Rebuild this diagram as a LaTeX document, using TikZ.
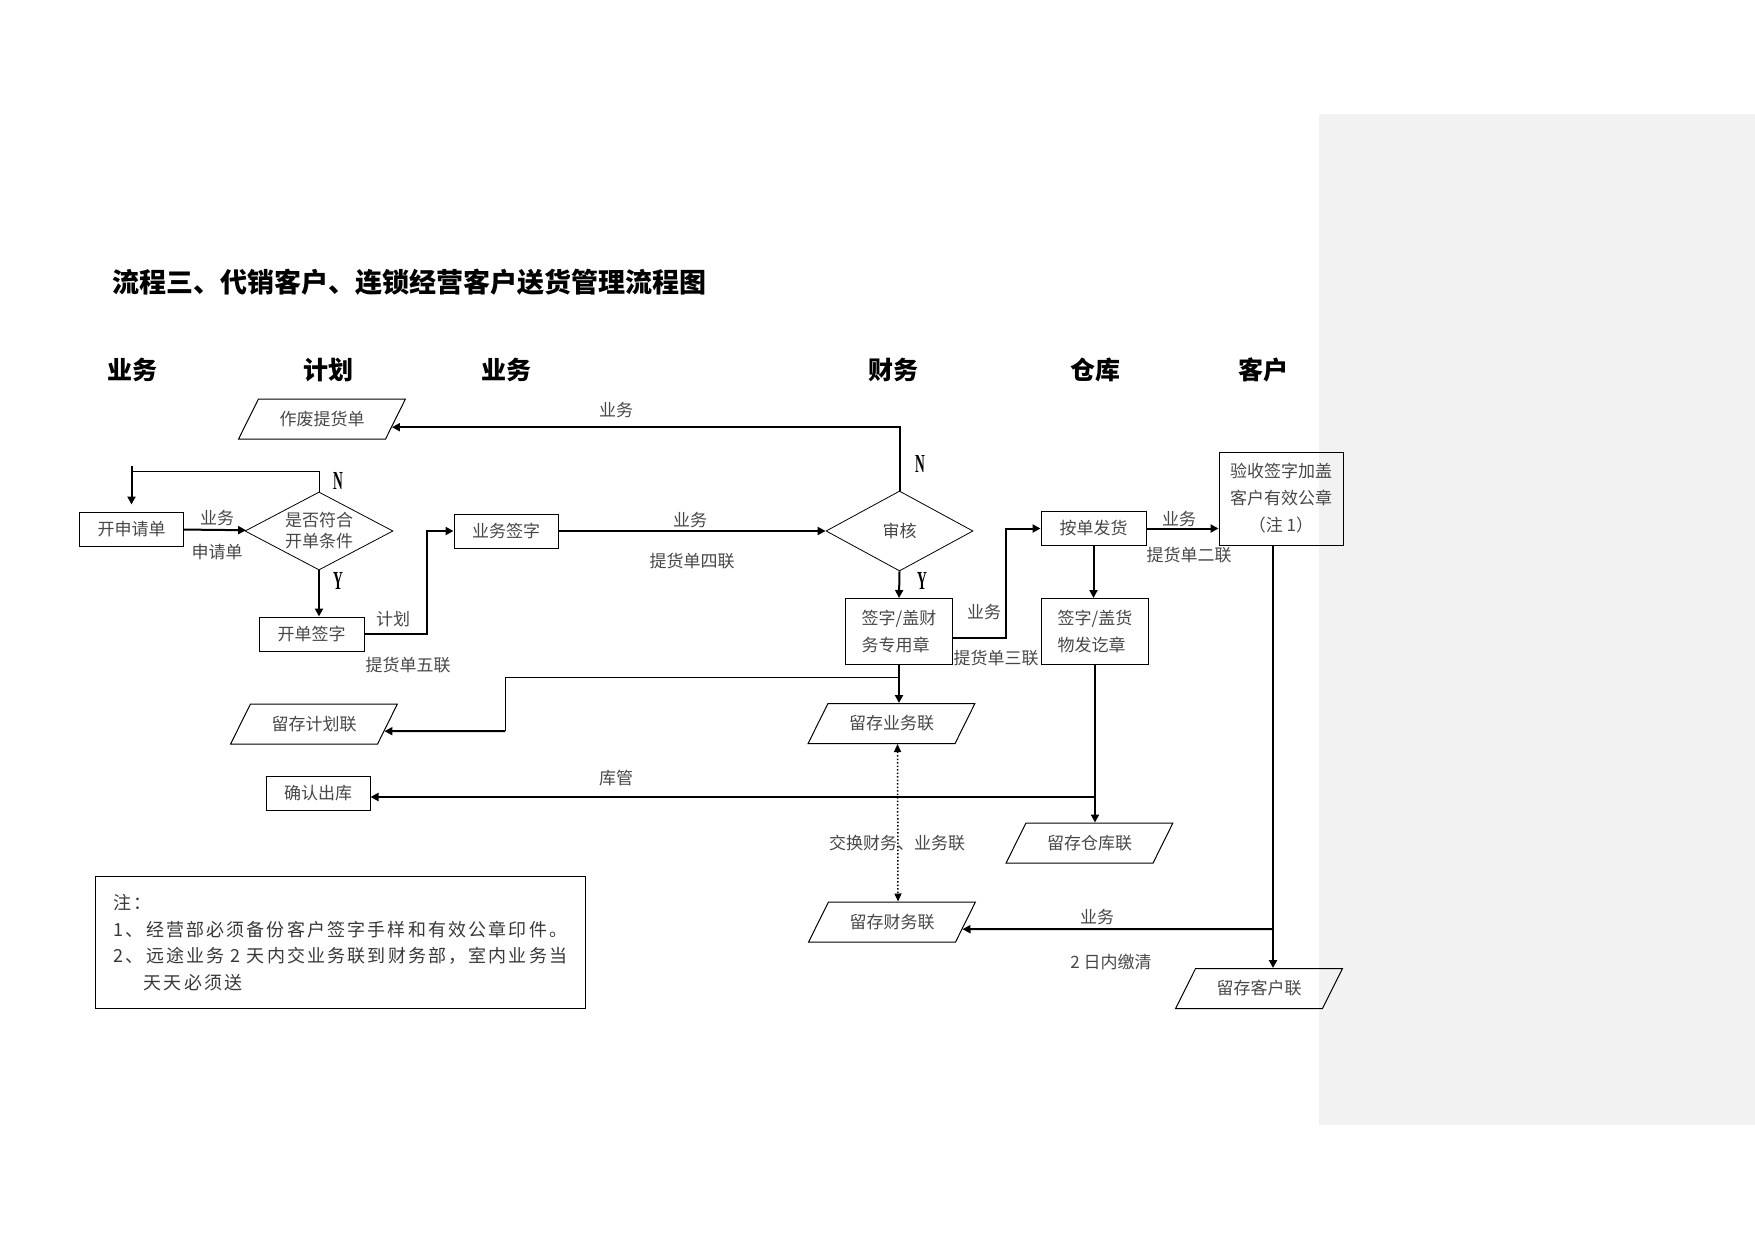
\documentclass[tikz,border=0pt]{standalone}
\usepackage{fontspec}
\setmainfont{Noto Sans CJK SC}
\newfontfamily\notefont[LetterSpace=12]{Noto Sans CJK SC}
\newfontfamily\ynfont{Liberation Serif}
\usetikzlibrary{shapes.geometric,arrows.meta,calc}

\tikzset{
  txt/.style={font=\fontsize{17}{27}\selectfont, text=black!72},
  box/.style={txt, draw, line width=1pt, minimum width=104pt, minimum height=34pt, inner sep=0pt},
  tallbox/.style={box, minimum width=107pt, minimum height=66pt, align=left},
  dec/.style={txt, draw, diamond, aspect=1.9, line width=0.8pt, minimum width=148pt, minimum height=78pt, inner sep=0pt, align=center, font=\fontsize{17}{21}\selectfont},
  doc/.style={txt, draw, trapezium, trapezium left angle=50, trapezium right angle=130, trapezium stretches=true, minimum width=167pt, minimum height=40pt, line width=1pt, inner sep=0pt},
  arr/.style={line width=2pt, -{Triangle[length=8pt,width=8pt]}},
  lane/.style={font=\bfseries\fontsize{25}{25}\selectfont},
  yn/.style={font=\ynfont\bfseries\fontsize{26}{26}\selectfont, inner sep=0pt},
}

\begin{document}
\begin{tikzpicture}[x=1pt,y=-1pt]
	\useasboundingbox (0,0) rectangle (1755,1241);
	% Margin
	\fill[gray!10] (1319,114) rectangle (1755,1125);
	% Title
	\node[anchor=west, inner sep=0pt, font=\bfseries\fontsize{27}{27}\selectfont] (title) at (112,282) {流程三、代销客户、连锁经营客户送货管理流程图};
	% Lanes
	\foreach \x/\t in {132/业务, 328/计划, 506/业务, 893/财务, 1095/仓库, 1263/客户} {
		\node[lane] (lane-\x) at (\x,370) {\t};
	}
	% Boxes
	\node[box] (ksq) at (131.5,529) {开申请单};
	\node[dec] (pd) at (319,531) {是否符合\\开单条件};
	\node[box, minimum width=105pt] (kdqz) at (311.5,634) {开单签字};
	\node[box] (ywqz) at (506,531) {业务签字};
	\node[dec, minimum width=147pt, minimum height=80pt] (sh) at (899.5,531) {审核};
	\node[tallbox] (cwz) at (899,631.5) {签字/盖财\\务专用章};
	\node[box, minimum width=105pt] (afh) at (1093.5,528.5) {按单发货};
	\node[tallbox] (hwz) at (1095,631.5) {签字/盖货\\物发讫章};
	\node[box, minimum width=124pt, minimum height=93pt, align=center] (ys) at (1281,498.5) {验收签字加盖\\客户有效公章\\（注 1）};
	\node[box] (qrck) at (318,793) {确认出库};
	% Docs
	\node[doc] (zf) at (322,419) {作废提货单};
	\node[doc] (ckjh) at (314,724) {留存计划联};
	\node[doc] (ckyw) at (891.5,723.5) {留存业务联};
	\node[doc] (ckck) at (1089.5,843) {留存仓库联};
	\node[doc] (ckcw) at (892,922) {留存财务联};
	\node[doc] (ckkh) at (1259,988.5) {留存客户联};
	% Y / N
	\node[yn] (n1) at (338,481) {\scalebox{0.52}[1]{N}};
	\node[yn] (y1) at (338,581) {\scalebox{0.52}[1]{Y}};
	\node[yn] (n2) at (920,464) {\scalebox{0.52}[1]{N}};
	\node[yn] (y2) at (922,581) {\scalebox{0.52}[1]{Y}};
	% Arrows
	\draw[arr] (ksq) -- (pd);
	\draw[line width=1pt] (pd.north) -- (pd.north |- 0,471) -- (ksq.north |- 0,471);
	\draw[arr] (ksq.north |- 0,466) -- ([yshift=7pt]ksq.north);
	\draw[arr] (pd.south) -- (pd.south |- kdqz.north);
	\draw[arr] (kdqz.east) -- ++(62,0) |- (ywqz.west);
	\draw[arr] (ywqz) -- (sh);
	\draw[arr] (sh.north) |- ($(zf.top right corner)!.7!(zf.bottom right corner)$);
	\draw[arr] (sh.south) -- (cwz.north);
	\draw[arr] ([yshift=-6pt]cwz.east) -- ++(53,0) |- (afh.west);
	\draw[arr] (afh.south) -- (afh.south |- hwz.north);
	\draw[arr] (afh.east) -- (afh.east -| ys.west);
	\draw[arr] (cwz.south) -- (cwz.south |- ckyw.north);
	\coordinate (b1) at (cwz.south |- 0,677);
	\coordinate (b2) at (505,731);
	\draw[line width=1pt] (b1) -| (b2);
	\draw[arr] (b2) -- ($(ckjh.top right corner)!.675!(ckjh.bottom right corner)$);
	\draw[line width=1.5pt, dotted, {Triangle[length=8pt,width=7pt]}-{Triangle[length=8pt,width=7pt]}] ([xshift=6pt]ckyw.south) -- ([xshift=6pt]ckcw.north);
	\draw[arr] (hwz.south) -- (hwz.south |- ckck.north);
	\coordinate (b3) at (hwz.south |- 0,797);
	\draw[arr] (b3) -- (qrck.east |- b3);
	\coordinate (b4) at ([xshift=-8pt]ys.south);
	\draw[arr] (b4) -- (b4 |- ckkh.north);
	\coordinate (b5) at (b4 |- 0,929);
	\draw[arr] (b5) -- ($(ckcw.top right corner)!.675!(ckcw.bottom right corner)$);
	% Labels
	\node[txt] (t1) at (217,518) {业务};
	\node[txt] (t2) at (217,552) {申请单};
	\node[txt] (t3) at (393,619) {计划};
	\node[txt] (t4) at (408,665) {提货单五联};
	\node[txt] (t5) at (690,520) {业务};
	\node[txt] (t6) at (692,561) {提货单四联};
	\node[txt] (t7) at (616,410) {业务};
	\node[txt] (t8) at (984,612) {业务};
	\node[txt] (t9) at (996,658) {提货单三联};
	\node[txt] (t10) at (1179,519) {业务};
	\node[txt] (t11) at (1189,555) {提货单二联};
	\node[txt] (t12) at (616,778) {库管};
	\node[txt] (t13) at (897,843) {交换财务、业务联};
	\node[txt] (t14) at (1097,917) {业务};
	\node[txt] (t15) at (1111,962) {2 日内缴清};
	% Note
	\node[draw, line width=1pt, anchor=north west, minimum width=490pt, minimum height=132pt, inner sep=0pt, align=left, font=\notefont\fontsize{18}{26.5}\selectfont, text=black!78] (note) at (95,876) {注：\\1、经营部必须备份客户签字手样和有效公章印件。\\2、远途业务 2 天内交业务联到财务部，室内业务当\\\hspace*{30pt}天天必须送};
\end{tikzpicture}
\end{document}
